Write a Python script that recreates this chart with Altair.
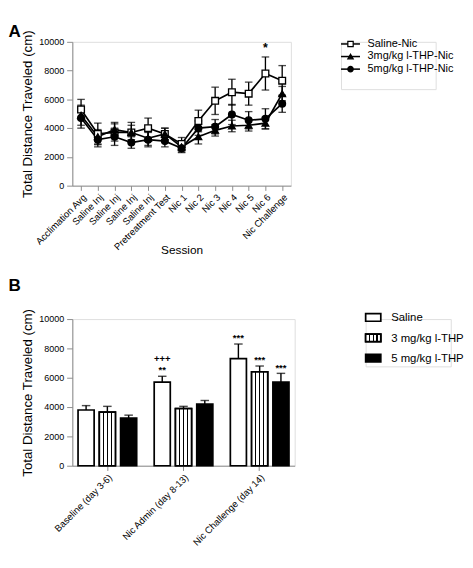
import altair as alt
import pandas as pd

FONT = "Liberation Sans"

# ---------------- Panel A data ----------------
sessions = ["Acclimation Avg", "Saline Inj#1", "Saline Inj#2", "Saline Inj#3", "Saline Inj#4",
            "Pretreatment Test", "Nic 1", "Nic 2", "Nic 3", "Nic 4", "Nic 5", "Nic 6", "Nic Challenge"]
groups_a = ["Saline-Nic", "3mg/kg l-THP-Nic", "5mg/kg l-THP-Nic"]
saline_nic = [5300, 3600, 3700, 3700, 4000, 3600, 2900, 4500, 5900, 6500, 6400, 7800, 7300]
saline_nic_err = [700, 750, 600, 700, 700, 400, 450, 750, 950, 900, 800, 1150, 1050]
thp3_nic = [4900, 3400, 3900, 3700, 3300, 3600, 2700, 3400, 3850, 4150, 4200, 4350, 6400]
thp3_nic_err = [700, 500, 500, 500, 500, 400, 350, 500, 400, 400, 400, 400, 500]
thp5_nic = [4700, 3200, 3400, 3000, 3200, 3100, 2600, 4000, 4100, 4950, 4550, 4650, 5700]
thp5_nic_err = [700, 500, 600, 400, 500, 400, 300, 500, 500, 700, 600, 700, 600]
ann_a_session = ["Nic 6"]
ann_a_group = ["Saline-Nic"]
ann_a_text = ["*"]

# ---------------- Panel B data ----------------
periods = ["Baseline (day 3-6)", "Nic Admin (day 8-13)", "Nic Challenge (day 14)"]
groups_b = ["Saline", "3 mg/kg l-THP", "5 mg/kg l-THP"]
saline_b = [3800, 5700, 7300]
saline_b_err = [300, 400, 1000]
thp3_b = [3650, 3900, 6400]
thp3_b_err = [400, 150, 400]
thp5_b = [3250, 4200, 5700]
thp5_b_err = [200, 250, 600]
ann_b_period = ["Nic Admin (day 8-13)", "Nic Admin (day 8-13)", "Nic Challenge (day 14)",
                "Nic Challenge (day 14)", "Nic Challenge (day 14)"]
ann_b_group = ["Saline", "Saline", "Saline", "3 mg/kg l-THP", "5 mg/kg l-THP"]
ann_b_text = ["**", "+++", "***", "***", "***"]
ann_b_level = [0, 1, 0, 0, 0]
y_ticks = [0, 2000, 4000, 6000, 8000, 10000]

# ---------------- build tables ----------------
rows = []
for g, vals, errs in zip(groups_a, [saline_nic, thp3_nic, thp5_nic],
                         [saline_nic_err, thp3_nic_err, thp5_nic_err]):
    for s, v, e in zip(sessions, vals, errs):
        rows.append({"session": s, "group": g, "value": v, "lo": v - e, "hi": v + e})
df_a = pd.DataFrame(rows)
ann_a = []
for s, g, t in zip(ann_a_session, ann_a_group, ann_a_text):
    r = df_a[(df_a.session == s) & (df_a.group == g)].iloc[0]
    ann_a.append({"session": s, "hi": r.hi, "text": t})
df_ann_a = pd.DataFrame(ann_a)

rows = []
for g, vals, errs in zip(groups_b, [saline_b, thp3_b, thp5_b], [saline_b_err, thp3_b_err, thp5_b_err]):
    for p, v, e in zip(periods, vals, errs):
        rows.append({"period": p, "group": g, "value": v, "hi": v + e})
df_b = pd.DataFrame(rows)
ann_b = []
for p, g, t, l in zip(ann_b_period, ann_b_group, ann_b_text, ann_b_level):
    r = df_b[(df_b.period == p) & (df_b.group == g)].iloc[0]
    ann_b.append({"period": p, "group": g, "hi": r.hi, "text": t, "level": l})
df_ann_b = pd.DataFrame(ann_b)

# ---------------- common axis ----------------
def yaxis():
    return alt.Axis(values=y_ticks, format="d", labelOverlap=False, labelSeparation=0,
                    labelFontSize=9.5, labelPadding=3, tickSize=6, title="Total Distance Traveled (cm)",
                    titleFontSize=14, titleFontWeight="normal", titlePadding=5, grid=False)

def yenc(field):
    return alt.Y(field, scale=alt.Scale(domain=[0, 10000]), axis=yaxis())

# ---------------- Panel A ----------------
xA = alt.X("session:N", sort=sessions, scale=alt.Scale(type="point", padding=0.52),
           axis=alt.Axis(title="Session", labelAngle=-45, labelExpr="split(datum.label, '#')[0]",
                         labelOverlap=False, titleFontSize=12.5, titleFontWeight="normal",
                         titleY=62, titleBaseline="top"))

base_a = alt.Chart(df_a)
lines_a = base_a.mark_line(color="black", strokeWidth=1.8).encode(x=xA, y=yenc("value:Q"), detail="group:N")
err_a = base_a.mark_rule(color="black", strokeWidth=1.4).encode(x=xA, y=yenc("lo:Q"), y2="hi:Q")
cap_hi = base_a.mark_tick(color="black", thickness=1.4, size=8).encode(x=xA, y=yenc("hi:Q"))
cap_lo = base_a.mark_tick(color="black", thickness=1.4, size=8).encode(x=xA, y=yenc("lo:Q"))
pts_a = base_a.mark_point(filled=True, size=50, stroke="black", strokeWidth=1.4, opacity=1).encode(
    x=xA, y=yenc("value:Q"),
    shape=alt.Shape("group:N", scale=alt.Scale(domain=groups_a, range=["square", "triangle-up", "circle"]), legend=None),
    fill=alt.Fill("group:N", scale=alt.Scale(domain=groups_a, range=["white", "black", "black"]), legend=None),
)
star_a = alt.Chart(df_ann_a).mark_text(font=FONT, fontSize=13, fontWeight="bold", baseline="bottom", dy=-2.5).encode(
    x=xA, y=yenc("hi:Q"), text="text:N")

panel_a = alt.layer(lines_a, err_a, cap_hi, cap_lo, pts_a, star_a).properties(
    width=231, height=152,
    title=alt.TitleParams("A", anchor="start", fontSize=18, fontWeight="bold", font=FONT, dx=-13, offset=-12),
)

leg_a_df = pd.DataFrame({"group": groups_a, "idx": list(range(len(groups_a)))})
yLa = alt.Y("idx:Q", axis=None,
            scale=alt.Scale(domain=[-0.167, 3.593], reverse=True, nice=False, zero=False))
leg_a_base = alt.Chart(leg_a_df)
leg_a = alt.layer(
    leg_a_base.mark_rule(color="black", strokeWidth=1.6).encode(x=alt.value(0), x2=alt.value(20), y=yLa),
    leg_a_base.mark_point(filled=True, size=32, stroke="black", strokeWidth=1.3, opacity=1).encode(
        x=alt.value(10), y=yLa,
        shape=alt.Shape("group:N", scale=alt.Scale(domain=groups_a, range=["square", "triangle-up", "circle"]), legend=None),
        fill=alt.Fill("group:N", scale=alt.Scale(domain=groups_a, range=["white", "black", "black"]), legend=None)),
    leg_a_base.mark_text(align="left", baseline="middle", font=FONT, fontSize=11.5, color="black").encode(
        x=alt.value(28), y=yLa, text="group:N"),
).properties(width=100, height=50)

row_a = alt.hconcat(panel_a, leg_a, spacing=50)

# ---------------- Panel B ----------------
xB = alt.X("period:N", sort=periods, scale=alt.Scale(paddingInner=0.23, paddingOuter=0.075),
           axis=alt.Axis(title=None, labelAngle=-45, labelOverlap=False))
xoB = alt.XOffset("group:N", sort=groups_b, scale=alt.Scale(domain=groups_b, paddingInner=0.244, paddingOuter=0))

stripes = []
for c in [0.25, 0.5, 0.75]:
    stripes += [alt.GradientStop(color="white", offset=c - 0.045), alt.GradientStop(color="black", offset=c - 0.045),
                alt.GradientStop(color="black", offset=c + 0.045), alt.GradientStop(color="white", offset=c + 0.045)]
stripe_fill = alt.LinearGradient(gradient="linear", x1=0, x2=1, y1=0, y2=0,
                                 stops=[alt.GradientStop(color="white", offset=0)] + stripes +
                                       [alt.GradientStop(color="white", offset=1)])

base_b = alt.Chart(df_b)
bars_b = base_b.mark_bar(stroke="black", strokeWidth=1.8).encode(
    x=xB, xOffset=xoB, y=yenc("value:Q"),
    fill=alt.Fill("group:N", scale=alt.Scale(domain=groups_b, range=["white", "white", "black"]), legend=None))
bars_s = base_b.transform_filter(alt.datum.group == groups_b[1]).mark_bar(
    stroke="black", strokeWidth=1.8, fill=stripe_fill).encode(x=xB, xOffset=xoB, y=yenc("value:Q"))
err_b = base_b.mark_rule(color="black", strokeWidth=1.5).encode(x=xB, xOffset=xoB, y=yenc("value:Q"), y2="hi:Q")
cap_b = base_b.mark_tick(color="black", thickness=1.5, size=9).encode(x=xB, xOffset=xoB, y=yenc("hi:Q"))
ann_base = alt.Chart(df_ann_b)
txt_b0 = ann_base.transform_filter(alt.datum.level == 0).mark_text(
    font=FONT, fontSize=10, fontWeight="bold", baseline="bottom", dy=-1).encode(
    x=xB, xOffset=xoB, y=yenc("hi:Q"), text="text:N")
txt_b1 = ann_base.transform_filter(alt.datum.level == 1).mark_text(
    font=FONT, fontSize=10, fontWeight="bold", baseline="bottom", dy=-13).encode(
    x=xB, xOffset=xoB, y=yenc("hi:Q"), text="text:N")

panel_b = alt.layer(err_b, cap_b, bars_b, bars_s, txt_b0, txt_b1).properties(
    width=235, height=155,
    title=alt.TitleParams("B", anchor="start", fontSize=18, fontWeight="bold", font=FONT, dx=-13, offset=14),
)

leg_b_df = pd.DataFrame({"group": groups_b, "idx": list(range(len(groups_b)))})
yLb = alt.Y("idx:Q", axis=None,
            scale=alt.Scale(domain=[0.079, 2.405], reverse=True, nice=False, zero=False))
rect_path = "M-1,-0.5H1V0.5H-1Z"
leg_b_base = alt.Chart(leg_b_df)
leg_b = alt.layer(
    leg_b_base.mark_point(shape=rect_path, size=256, filled=True, stroke="black", strokeWidth=1.8, opacity=1).encode(
        x=alt.value(8), y=yLb,
        fill=alt.Fill("group:N", scale=alt.Scale(domain=groups_b, range=["white", "white", "black"]), legend=None)),
    leg_b_base.transform_filter(alt.datum.group == groups_b[1]).mark_point(
        shape=rect_path, size=256, filled=True, fill=stripe_fill, stroke="black", strokeWidth=1.8, opacity=1).encode(
        x=alt.value(8), y=yLb),
    leg_b_base.mark_text(align="left", baseline="middle", font=FONT, fontSize=12, color="black").encode(
        x=alt.value(27), y=yLb, text="group:N"),
).properties(width=90, height=50)

row_b = alt.hconcat(panel_b, leg_b, spacing=69)

chart = alt.vconcat(row_a, row_b, spacing=22).properties(
    padding={"left": 0, "top": 0, "right": 0, "bottom": 0}
).configure_view(strokeWidth=0, strokeOpacity=0).configure_axis(
    domainColor="black", domainWidth=1.6, tickColor="black", tickWidth=1.5, tickSize=5,
    labelFont=FONT, labelFontSize=10.5, labelFontWeight="bold", labelColor="black",
    titleFont=FONT, titleColor="black", grid=False, labelOverlap=False,
).configure(background="white")

chart.save("out.html", embed_options={"renderer": "svg", "actions": False})
